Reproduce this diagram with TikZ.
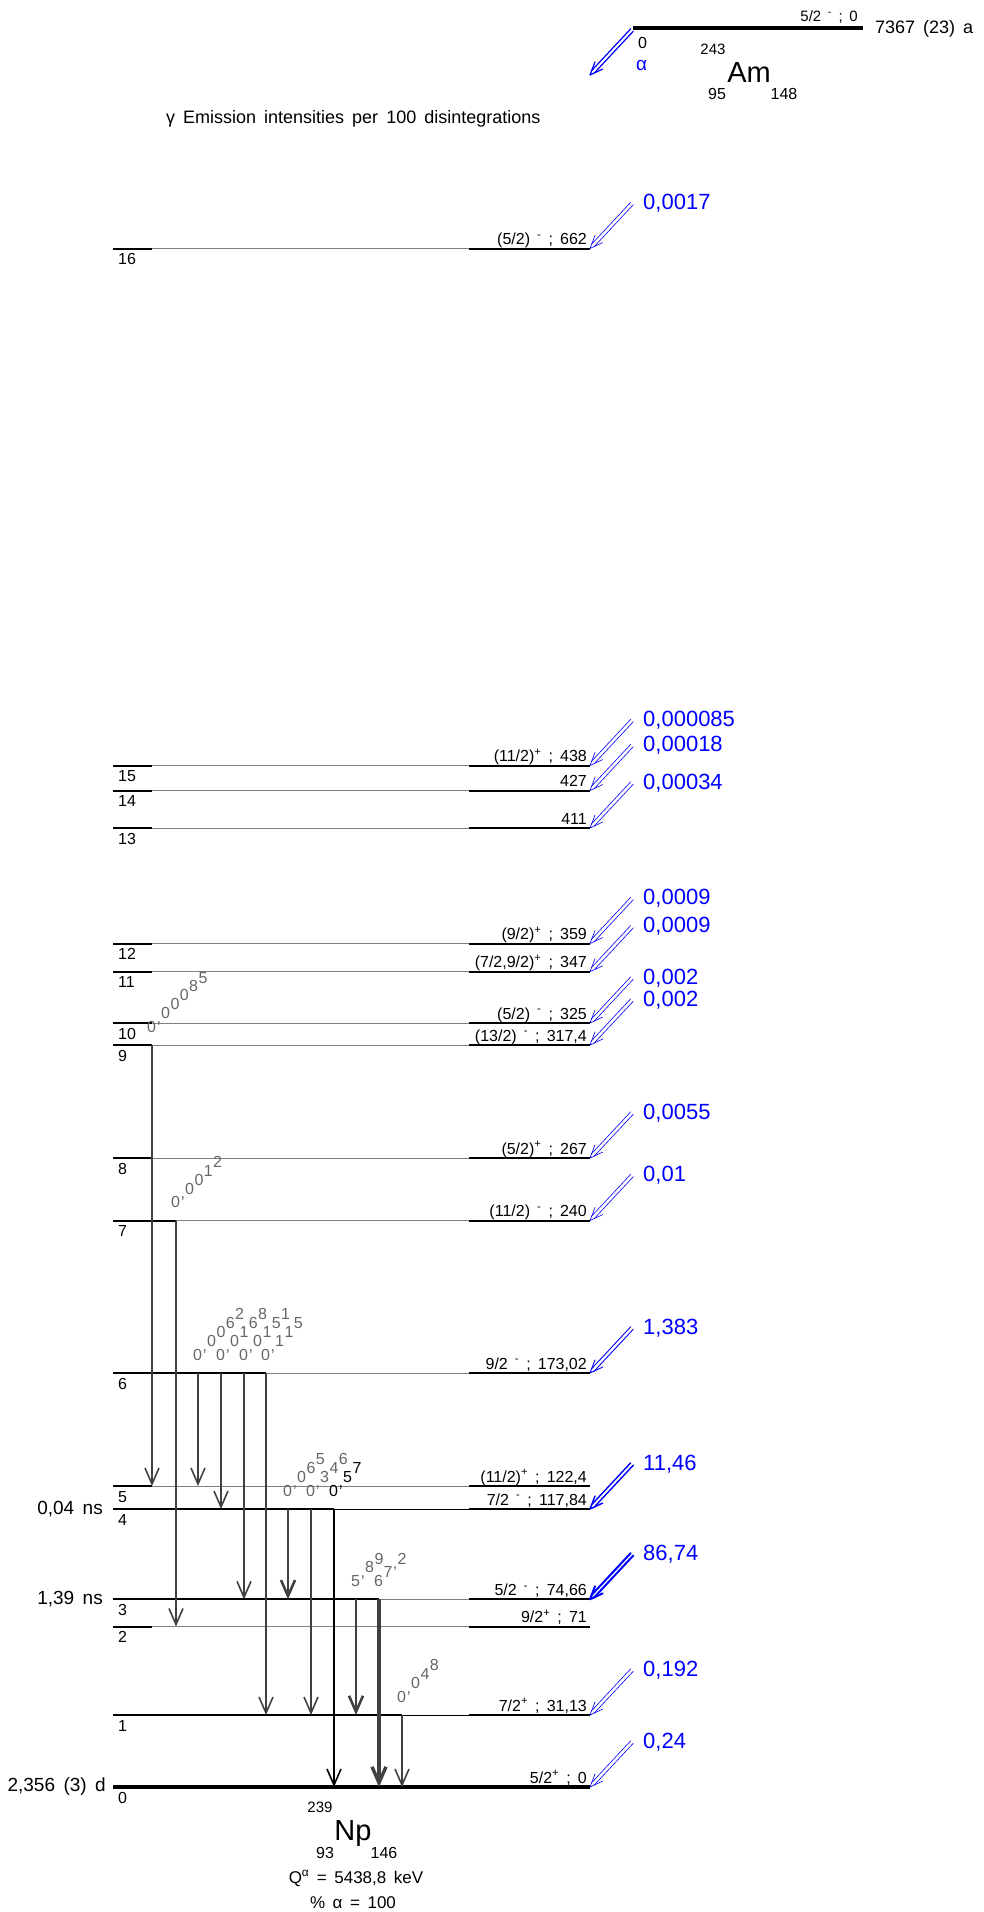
\documentclass[tikz,border=0pt]{standalone}
\usepackage{fontspec}
\setmainfont{Liberation Sans}[WordSpace=1.6]
\usetikzlibrary{arrows.meta,calc}

\newdimen\stcum
\newdimen\stw
\def\stairs#1{\stcum=0pt\relax\stairsi#1\relax}
\def\stairsi#1{\ifx#1\relax\else\settowidth{\stw}{#1}\raisebox{\stcum}{#1}\kern0.05\stw\advance\stcum by 1.0\stw\expandafter\stairsi\fi}

\newcommand\spl{\textsuperscript{+}}
\newcommand\smn{\textsuperscript{-}}

\newcommand\lvl[5]{%
  \coordinate (#1l) at (113,#2);
  \coordinate (#1r) at (590,#2);
  \draw[thinlvl] (#1l) -- (#1r);
  \draw[thicklvl] (#1l) -- ({#3},#2);
  \draw[thicklvl] (469,#2) -- (#1r);
  \node[lvllabel] (#1t) at ($(#1r)+(-3,-4)$) {#4};
  \node[lvlnum] (#1n) at ($(#1l)+(5,5)$) {#5};
}

\newcommand\gam[7]{%
  \coordinate (#1) at (#2,0);
  \draw[gline,#5] (#1 |- #3l) -- (#1 |- #4l);
  \node[glabel,text=#7] (#1t) at ($(#1 |- #3l)+(-5,-13)$) {\stairs{#6}};
}

\newcommand\alphashaft[2]{%
  \coordinate (#1s) at ($(#1)+(42,-45)$);
  \draw[aline,line width=#2] ($(#1s)+(1.3,1.2)$) -- ($(#1)+(4.0,-1.7)$);
  \draw[aline,line width=#2] ($(#1s)+(-1.3,-1.2)$) -- ($(#1)+(1.4,-4.1)$);
  \draw[aline,line width=#2] ($(#1)!14pt!22:(#1s)$) -- (#1) -- ($(#1)!14pt!-22:(#1s)$);
}
\newcommand\alphaarr[3]{%
  \alphashaft{#1}{#2}%
  \node[alabel] (#1a) at ($(#1)+(53,-45)$) {#3};
}

\begin{document}
\begin{tikzpicture}[x=1pt,y=-1pt,
  thinlvl/.style={draw=black!50, line width=0.9pt},
  thicklvl/.style={draw=black, line width=2pt},
  lvllabel/.style={font=\fontsize{16}{18}\selectfont, anchor=base east, inner sep=0pt},
  lvlnum/.style={font=\fontsize{16}{18}\selectfont, anchor=north west, inner sep=0pt},
  gline/.style={draw=black!75, line width=1.6pt, -{Straight Barb[length=16pt,width=14pt]}},
  glabel/.style={font=\fontsize{16}{18}\selectfont, anchor=base west, inner sep=0pt},
  aline/.style={draw=blue, line cap=round, line join=round},
  alabel/.style={font=\fontsize{22}{24}\selectfont, text=blue, anchor=west, inner sep=0pt},
  txt/.style={inner sep=0pt},
]
\useasboundingbox (0,0) rectangle (984,1912);

% ---- parent Am-243
\coordinate (Aml) at (633,28);
\coordinate (Amr) at (863,28);
\draw[line width=3.5pt] (Aml) -- (Amr);
\node[txt, anchor=base east, font=\fontsize{15}{17}\selectfont] (Amlab) at (858,21) {5/2 \smn{} ; 0};
\node[txt, anchor=west, font=\fontsize{18}{20}\selectfont] (Amhl) at (875,29) {7367 (23) a};
\node[txt, anchor=north west, font=\fontsize{16}{18}\selectfont] (Amzero) at (638,37) {0};
\node[txt, anchor=base west, text=blue, font=\fontsize{19}{21}\selectfont] (Amalpha) at (636,70) {α};
\node[txt, anchor=base, font=\fontsize{15}{17}\selectfont] (AmA) at (713,54) {243};
\node[txt, anchor=base, font=\fontsize{29}{31}\selectfont] (Amsym) at (749,82) {Am};
\node[txt, anchor=base, font=\fontsize{16}{18}\selectfont] (AmZ) at (717,99) {95};
\node[txt, anchor=base, font=\fontsize{16}{18}\selectfont] (AmN) at (784,99) {148};
\coordinate (Amtip) at (590,75);
\alphashaft{Amtip}{1.2pt}

% ---- title
\node[txt, anchor=base west, font=\fontsize{18}{20}\selectfont] (title) at (166,123) {γ Emission intensities per 100 disintegrations};

% ---- levels
\lvl{L16}{248.5}{152}{(5/2) \smn{} ; 662}{16}
\lvl{L15}{765.5}{152}{(11/2)\spl{} ; 438}{15}
\lvl{L14}{790.5}{152}{427}{14}
\lvl{L13}{828}{152}{411}{13}
\lvl{L12}{943.5}{152}{(9/2)\spl{} ; 359}{12}
\lvl{L11}{971.7}{152}{(7/2,9/2)\spl{} ; 347}{11}
\lvl{L10}{1023}{152}{(5/2) \smn{} ; 325}{10}
\lvl{L9}{1045}{152}{(13/2) \smn{} ; 317,4}{9}
\lvl{L8}{1158}{152}{(5/2)\spl{} ; 267}{8}
\lvl{L7}{1220.5}{176}{(11/2) \smn{} ; 240}{7}
\lvl{L6}{1373}{266}{9/2 \smn{} ; 173,02}{6}
\lvl{L5}{1486}{152}{(11/2)\spl{} ; 122,4}{5}
\lvl{L4}{1509}{334}{7/2 \smn{} ; 117,84}{4}
\lvl{L3}{1599.3}{379}{5/2 \smn{} ; 74,66}{3}
\lvl{L2}{1626.5}{152}{9/2\spl{} ; 71}{2}
\lvl{L1}{1715}{402}{7/2\spl{} ; 31,13}{1}
\lvl{L0}{1787}{152}{5/2\spl{} ; 0}{0}
\draw[black, line width=0.8pt] (L4l) -- (L4r);
\draw[black, line width=0.8pt] (L1l) -- (L1r);
\draw[black, line width=3.5pt] (L0l) -- (L0r);

% ---- half-lives
\node[txt, anchor=east, font=\fontsize{19}{21}\selectfont] (hl4) at (103,1509) {0,04 ns};
\node[txt, anchor=east, font=\fontsize{19}{21}\selectfont] (hl3) at (103,1599.3) {1,39 ns};
\node[txt, anchor=east, font=\fontsize{19}{21}\selectfont] (hl0) at (106,1787) {2,356 (3) d};

% ---- gamma transitions
\gam{g1}{152}{L9}{L5}{}{0,00085}{black!60}
\gam{g2}{176}{L7}{L2}{}{0,0012}{black!60}
\gam{g3}{198}{L6}{L5}{}{0,0062}{black!60}
\gam{g4}{221}{L6}{L4}{}{0,0168}{black!60}
\gam{g5}{244}{L6}{L3}{}{0,0151}{black!60}
\gam{g6}{266}{L6}{L1}{}{0,115}{black!60}
\gam{g7}{288}{L4}{L3}{line width=2.6pt}{0,065}{black!60}
\gam{g8}{311}{L4}{L1}{}{0,346}{black!60}
\gam{g9}{334}{L4}{L0}{draw=black}{0,57}{black}
\gam{g10}{356}{L3}{L1}{line width=2.6pt}{5,89}{black!60}
\gam{g11}{379}{L3}{L0}{line width=3.4pt}{67,2}{black!60}
\gam{g12}{402}{L1}{L0}{}{0,048}{black!60}

% ---- alpha feeding
\alphaarr{L16r}{0.6pt}{0,0017}
\alphaarr{L15r}{0.6pt}{0,000085}
\alphaarr{L14r}{0.6pt}{0,00018}
\alphaarr{L13r}{0.6pt}{0,00034}
\alphaarr{L12r}{0.6pt}{0,0009}
\alphaarr{L11r}{0.6pt}{0,0009}
\alphaarr{L10r}{0.6pt}{0,002}
\alphaarr{L9r}{0.6pt}{0,002}
\alphaarr{L8r}{0.6pt}{0,0055}
\alphaarr{L7r}{0.6pt}{0,01}
\alphaarr{L6r}{0.9pt}{1,383}
\alphaarr{L4r}{1.4pt}{11,46}
\alphaarr{L3r}{2pt}{86,74}
\alphaarr{L1r}{0.6pt}{0,192}
\alphaarr{L0r}{0.6pt}{0,24}

% ---- daughter Np-239
\node[txt, anchor=base, font=\fontsize{15}{17}\selectfont] (NpA) at (320,1812) {239};
\node[txt, anchor=base, font=\fontsize{29}{31}\selectfont] (Npsym) at (353,1840) {Np};
\node[txt, anchor=base, font=\fontsize{16}{18}\selectfont] (NpZ) at (325,1858) {93};
\node[txt, anchor=base, font=\fontsize{16}{18}\selectfont] (NpN) at (384,1858) {146};
\node[txt, anchor=base, font=\fontsize{17}{19}\selectfont] (Qa) at (356,1883) {Q\textsuperscript{α} = 5438,8 keV};
\node[txt, anchor=base, font=\fontsize{17}{19}\selectfont] (pa) at (353,1908) {\% α = 100};
\end{tikzpicture}
\end{document}
